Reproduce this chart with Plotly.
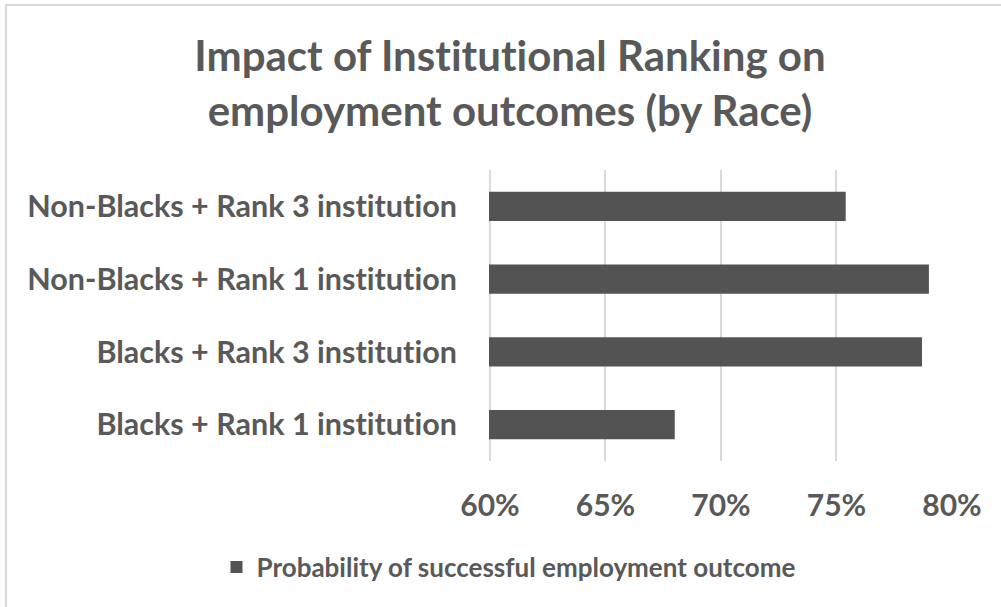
import plotly.graph_objects as go

# Categories listed bottom-to-top (Plotly draws the first category at the bottom)
categories = [
    "Blacks + Rank 1 institution",
    "Blacks + Rank 3 institution",
    "Non-Blacks + Rank 1 institution",
    "Non-Blacks + Rank 3 institution",
]
probability = [0.680, 0.787, 0.790, 0.754]
series_name = "Probability of successful employment outcome"
title_lines = ["Impact of Institutional Ranking on", "employment outcomes (by Race)"]
x_ticks = [0.60, 0.65, 0.70, 0.75, 0.80]
x_tick_labels = ["60%", "65%", "70%", "75%", "80%"]

W, H = 1001, 607
ML, MR, MT, MB = 489, 49, 170, 146
TEXT = "#595959"
GRID = "#d9d9d9"
FONT = "Lato"


def no_lig(s):
    # keep Lato from merging "ti" into a ligature
    return s.replace("ti", "t\u200ci")


def bold(s):
    return f"<b>{no_lig(s)}</b>"


fig = go.Figure(
    go.Bar(
        y=categories,
        x=probability,
        base=0,
        orientation="h",
        name=bold(series_name),
        marker=dict(color="#535353", line=dict(width=0)),
        showlegend=True,
    )
)

pw, ph = W - ML - MR, H - MT - MB


def px_to_paper_x(px):
    return (px - ML) / pw


def px_to_paper_y(py):
    return (H - MB - py) / ph


shapes = [
    # outer chart frame
    dict(
        type="rect",
        xref="paper",
        yref="paper",
        x0=px_to_paper_x(6),
        x1=px_to_paper_x(W + 20),
        y0=px_to_paper_y(H + 20),
        y1=px_to_paper_y(5),
        line=dict(color=GRID, width=2),
        fillcolor="rgba(0,0,0,0)",
        layer="below",
    ),
    # gridline on the left edge of the value axis
    dict(
        type="line",
        xref="x",
        yref="paper",
        x0=x_ticks[0],
        x1=x_ticks[0],
        y0=0,
        y1=1,
        line=dict(color=GRID, width=2),
        layer="below",
    ),
]

fig.update_layout(
    width=W,
    height=H,
    margin=dict(l=ML, r=MR, t=MT, b=MB, pad=0),
    paper_bgcolor="white",
    plot_bgcolor="white",
    bargap=0.6,
    font=dict(family=FONT, color=TEXT),
    title=dict(
        text="<br>".join(bold(t) for t in title_lines),
        x=510 / W,
        xanchor="center",
        xref="container",
        y=1 - 71 / H,
        yanchor="top",
        yref="container",
        font=dict(family=FONT, size=42, color=TEXT),
    ),
    xaxis=dict(
        range=[0.5996, 0.80],
        tickvals=x_ticks,
        ticktext=[bold(t) for t in x_tick_labels],
        tickfont=dict(family=FONT, size=30, color=TEXT),
        showgrid=True,
        gridcolor=GRID,
        gridwidth=2,
        zeroline=False,
        showline=False,
        ticks="outside",
        ticklen=18,
        tickcolor="rgba(0,0,0,0)",
        fixedrange=True,
    ),
    yaxis=dict(
        categoryorder="array",
        categoryarray=categories,
        tickvals=categories,
        ticktext=[bold(c) for c in categories],
        tickfont=dict(family=FONT, size=30.5, color=TEXT),
        showgrid=False,
        zeroline=False,
        showline=False,
        ticks="outside",
        ticklen=25,
        tickcolor="rgba(0,0,0,0)",
        fixedrange=True,
    ),
    legend=dict(
        orientation="h",
        x=0.5 + 8 / W,
        xref="container",
        xanchor="center",
        y=1 - 567 / H,
        yref="container",
        yanchor="middle",
        font=dict(family=FONT, size=26, color=TEXT),
        itemwidth=30,
    ),
    shapes=shapes,
)

fig.write_html("out.html")
